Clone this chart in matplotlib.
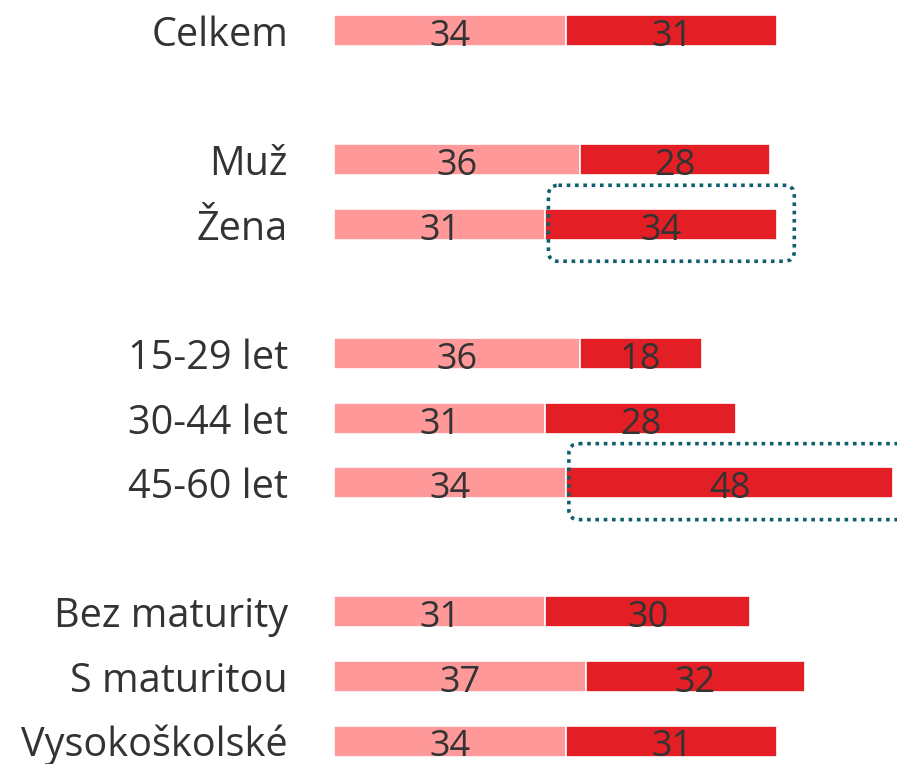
import matplotlib
matplotlib.use("Agg")
import matplotlib.pyplot as plt
from matplotlib.patches import FancyBboxPatch

categories = ["Celkem", "Muž", "Žena", "15-29 let", "30-44 let", "45-60 let",
              "Bez maturity", "S maturitou", "Vysokoškolské"]
positions = [0, 2, 3, 5, 6, 7, 9, 10, 11]
series_a = [34, 36, 31, 36, 31, 34, 31, 37, 34]
series_b = [31, 28, 34, 18, 28, 48, 30, 32, 31]
highlight = ["Žena", "45-60 let"]

W, H = 897, 764
fig = plt.figure(figsize=(W / 100, H / 100), dpi=100)
plt.rcParams['font.family'] = ['Open Sans', 'DejaVu Sans']

px_per_unit = 6.82
left_px = 334
ax = fig.add_axes([left_px / W, 0, (W - left_px) / W, 1])
ax.set_xlim(0, (W - left_px) / px_per_unit)
slot = (741 - 30.5) / 11
ax.set_ylim(11 + (H - 741) / slot, -30.5 / slot)
ax.axis('off')

c_light = '#FF9999'
c_red = '#E31E24'
txt = '#333333'
bh = 31 / slot
base = 15.5 / slot

ax.barh(positions, series_a, height=bh, color=c_light, edgecolor='white', linewidth=1.2)
ax.barh(positions, series_b, left=series_a, height=bh, color=c_red, edgecolor='white', linewidth=1.2)

for p, a, b, cat in zip(positions, series_a, series_b, categories):
    ax.text(a / 2, p + base, f"{a}", ha='center', va='baseline', fontsize=26, color=txt)
    ax.text(a + b / 2, p + base, f"{b}", ha='center', va='baseline', fontsize=26, color=txt)
    ax.text(-46 / px_per_unit, p + base, cat, ha='right', va='baseline', fontsize=28.5, color=txt)

# overlay in pixel coords for highlight boxes
ov = fig.add_axes([0, 0, 1, 1])
ov.set_xlim(0, W)
ov.set_ylim(H, 0)
ov.axis('off')
ov.patch.set_alpha(0)
fig.canvas.draw()
for p, a, b, cat in zip(positions, series_a, series_b, categories):
    if cat in highlight:
        x0, y0 = ax.transData.transform((a, p))
        x1, _ = ax.transData.transform((a + b, p))
        xa, ya = ov.transData.inverted().transform((x0, y0))
        xb, _ = ov.transData.inverted().transform((x1, y0))
        bx0 = xa + 3
        bx1 = xb + 17
        by0 = ya - 39
        by1 = ya + 37
        box = FancyBboxPatch((bx0, by0), bx1 - bx0, by1 - by0,
                             boxstyle="round,pad=0,rounding_size=10",
                             fill=False, edgecolor='#0E5F6D', linewidth=2.6,
                             linestyle=(0, (1, 1.3)), clip_on=False)
        ov.add_patch(box)

fig.savefig("out.png", dpi=100)
